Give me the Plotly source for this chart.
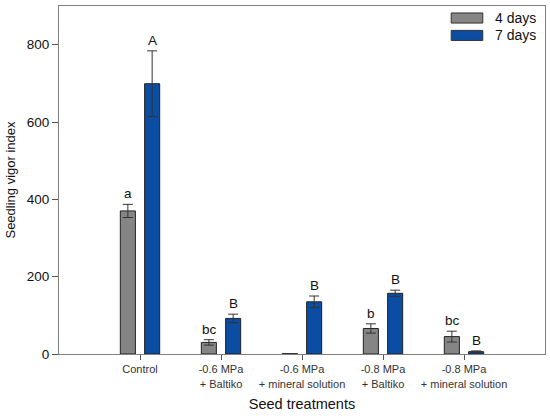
import plotly.graph_objects as go

treatments = ["Control", "-0.6 MPa<br>+ Baltiko", "-0.6 MPa<br>+ mineral solution",
              "-0.8 MPa<br>+ Baltiko", "-0.8 MPa<br>+ mineral solution"]
days4 = [370, 30, 1, 66, 45]
days4_err = [17, 7, 0, 12, 14]
days7 = [699, 92, 135, 157, 6]
days7_err = [85, 11, 15, 8, 2]
letters4 = ["a", "bc", "", "b", "bc"]
letters7 = ["A", "B", "B", "B", "B"]

gray = "#858585"
blue = "#0A4DA3"
font = "Liberation Sans, Arial, sans-serif"

fig = go.Figure()
for name, vals, errs, color in [("4 days", days4, days4_err, gray),
                                ("7 days", days7, days7_err, blue)]:
    fig.add_trace(go.Bar(
        x=treatments, y=vals, name=name,
        marker=dict(color=color, line=dict(color="#222222", width=1)),
        error_y=dict(type="data", array=errs, color="#333333", thickness=1, width=5),
        hoverinfo="skip",
    ))

# significance letters above the error bars
for i, t in enumerate(treatments):
    for lab, vals, errs, shift in [(letters4[i], days4, days4_err, -12),
                                   (letters7[i], days7, days7_err, 12)]:
        if lab:
            fig.add_annotation(x=t, y=vals[i] + errs[i], text=lab, showarrow=False,
                               xshift=shift, yanchor="bottom", yshift=1,
                               font=dict(size=13.5, color="#111111", family=font))

# legend drawn by hand to get the wide flat patches
for j, (name, color) in enumerate([("4 days", gray), ("7 days", blue)]):
    y0 = 0.951 - j * 0.05
    fig.add_shape(type="rect", xref="paper", yref="paper",
                  x0=0.807, x1=0.872, y0=y0, y1=y0 + 0.029,
                  fillcolor=color, line=dict(color="#333333", width=1))
    fig.add_annotation(xref="paper", yref="paper", x=0.893, y=y0 + 0.0145,
                       text=name, showarrow=False, xanchor="left", yanchor="middle",
                       font=dict(size=14, color="#111111", family=font))

fig.update_layout(
    width=550, height=416,
    margin=dict(l=59, r=5, t=6, b=62),
    barmode="group", bargap=0.4, bargroupgap=0.38,
    plot_bgcolor="white", paper_bgcolor="white",
    showlegend=False,
    font=dict(family=font, color="#111111"),
    xaxis=dict(
        range=[-1, 5], showline=True, linecolor="#808080", linewidth=1, mirror=True,
        ticks="outside", ticklen=5, tickcolor="#555555", automargin=False,
        tickfont=dict(size=11, color="#333333"),
        title=dict(text="Seed treatments", font=dict(size=14.5), standoff=10),
    ),
    yaxis=dict(
        range=[0, 900], tickvals=[0, 200, 400, 600, 800], showgrid=False, zeroline=False,
        showline=True, linecolor="#808080", linewidth=1, mirror=True,
        ticks="outside", ticklen=6, tickcolor="#555555", automargin=False,
        tickfont=dict(size=13.5),
        title=dict(text="Seedling vigor index", font=dict(size=13), standoff=8),
    ),
)

# drop the browser's default body margin so the 550x416 figure fills the window
fig.write_html("out.html", config={"displayModeBar": False},
               post_script="document.body.style.margin='0';")
